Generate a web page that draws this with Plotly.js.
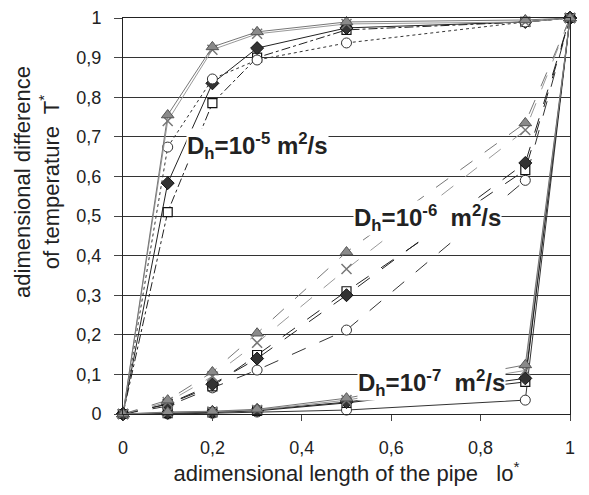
<!DOCTYPE html>
<html><head><meta charset="utf-8">
<script src="https://cdn.plot.ly/plotly-3.0.1.min.js"></script>
<style>html,body{margin:0;padding:0;background:#fff}</style>
</head><body>
<div id="chart" style="width:589px;height:495px"></div>
<script>
const lo = [0, 0.1, 0.2, 0.3, 0.5, 0.9, 1];

// Dh = 1e-5 m2/s
const d5Tri = [0, 0.755, 0.927, 0.965, 0.99, 0.995, 1];
const d5X   = [0, 0.74, 0.92, 0.96, 0.985, 0.99, 1];
const d5Dia = [0, 0.583, 0.835, 0.924, 0.975, 0.99, 1];
const d5Sq  = [0, 0.51, 0.785, 0.90, 0.97, 0.99, 1];
const d5Cir = [0, 0.674, 0.846, 0.894, 0.937, 0.99, 1];

// Dh = 1e-6 m2/s
const d6Tri = [0, 0.035, 0.106, 0.204, 0.409, 0.735, 1];
const d6X   = [0, 0.03, 0.095, 0.18, 0.366, 0.717, 1];
const d6Dia = [0, 0.025, 0.075, 0.14, 0.30, 0.634, 1];
const d6Sq  = [0, 0.025, 0.07, 0.149, 0.31, 0.616, 1];
const d6Cir = [0, 0.02, 0.066, 0.111, 0.212, 0.59, 1];

// Dh = 1e-7 m2/s
const d7Tri = [0, 0.005, 0.007, 0.012, 0.04, 0.124, 1];
const d7X   = [0, 0.004, 0.006, 0.01, 0.035, 0.11, 1];
const d7Dia = [0, 0.003, 0.005, 0.01, 0.03, 0.09, 1];
const d7Sq  = [0, 0.002, 0.004, 0.008, 0.028, 0.081, 1];
const d7Cir = [0, 0, 0.002, 0.005, 0.01, 0.035, 1];

const yTicks = [0, 0.1, 0.2, 0.3, 0.4, 0.5, 0.6, 0.7, 0.8, 0.9, 1];
const yTickText = ['0', '0,1', '0,2', '0,3', '0,4', '0,5', '0,6', '0,7', '0,8', '0,9', '1'];
const xTicks = [0, 0.2, 0.4, 0.6, 0.8, 1];
const xTickText = ['0', '0,2', '0,4', '0,6', '0,8', '1'];
const labels = ['D<sub>h</sub>=10<sup>-5</sup> m<sup>2</sup>/s',
                'D<sub>h</sub>=10<sup>-6</sup>  m<sup>2</sup>/s',
                'D<sub>h</sub>=10<sup>-7</sup>  m<sup>2</sup>/s'];
const xTitle = 'adimensional length of the pipe   lo<sup>*</sup>';
const yTitle = 'adimensional difference<br>of temperature  T<sup>*</sup>';

const styles = {
  tri: {marker:{symbol:'triangle-up', size:11, color:'#8a8a8a', line:{color:'#555', width:1}}, lc:'#777'},
  x:   {marker:{symbol:'x-thin', size:10, color:'#777', line:{color:'#777', width:1.5}}, lc:'#999'},
  dia: {marker:{symbol:'diamond', size:10, color:'#333', line:{color:'#111', width:1}}, lc:'#222'},
  sq:  {marker:{symbol:'square', size:9, color:'#fff', line:{color:'#111', width:1.2}}, lc:'#222'},
  cir: {marker:{symbol:'circle', size:10, color:'#fff', line:{color:'#333', width:1}}, lc:'#333'}
};
function tr(y, key, dash){
  const s = styles[key];
  return {x: lo, y: y, type:'scatter', mode:'lines+markers', cliponaxis:false,
    line:{color:s.lc, width:1, dash:dash}, marker:s.marker, showlegend:false, hoverinfo:'skip'};
}
const data = [
  tr(d5Sq,'sq','dashdot'), tr(d5Dia,'dia','solid'), tr(d5Cir,'cir','dot'), tr(d5X,'x','solid'), tr(d5Tri,'tri','solid'),
  tr(d6Cir,'cir','longdash'), tr(d6Sq,'sq','longdash'), tr(d6Dia,'dia','longdash'), tr(d6X,'x','longdash'), tr(d6Tri,'tri','longdash'),
  tr(d7Cir,'cir','solid'), tr(d7Sq,'sq','solid'), tr(d7Dia,'dia','solid'), tr(d7X,'x','solid'), tr(d7Tri,'tri','solid')
];
const FONT = 'Liberation Sans, Arial, sans-serif';
const layout = {
  width:589, height:495,
  margin:{l:123, r:19, t:18, b:81},
  paper_bgcolor:'#fff', plot_bgcolor:'#fff',
  font:{family:FONT, color:'#222', size:17},
  xaxis:{range:[0,1], tickvals:xTicks, ticktext:xTickText, showgrid:false, zeroline:false,
    showline:true, linecolor:'#222', linewidth:1, mirror:true,
    ticks:'outside', ticklen:6, tickcolor:'#444', ticklabelstandoff:11,
    tickfont:{family:FONT, size:18, color:'#222'}, automargin:false,
    title:{text:xTitle, font:{family:FONT, size:22, color:'#222'}, standoff:7}},
  yaxis:{range:[0,1], tickvals:yTicks, ticktext:yTickText, showgrid:true, gridcolor:'#333', gridwidth:1, zeroline:false,
    showline:true, linecolor:'#222', linewidth:1, mirror:true,
    ticks:'outside', ticklen:8, tickcolor:'#444', ticklabelstandoff:9,
    tickfont:{family:FONT, size:18, color:'#222'}, automargin:false},
  annotations:[
    {x:-0.1924, y:0.586, xref:'paper', yref:'paper', text:yTitle, textangle:-90, showarrow:false,
     font:{family:FONT, size:22, color:'#222'}, xanchor:'center', yanchor:'middle'},
    {x:0.302, y:0.677, xref:'x', yref:'y', text:'<b>'+labels[0]+'</b>', showarrow:false, bgcolor:'#fff', font:{family:FONT, size:24, color:'#222'}, borderpad:0},
    {x:0.682, y:0.495, xref:'x', yref:'y', text:'<b>'+labels[1]+'</b>', showarrow:false, bgcolor:'#fff', font:{family:FONT, size:24, color:'#222'}, borderpad:0},
    {x:0.691, y:0.078, xref:'x', yref:'y', text:'<b>'+labels[2]+'</b>', showarrow:false, bgcolor:'#fff', font:{family:FONT, size:24, color:'#222'}, borderpad:0}
  ]
};
Plotly.newPlot('chart', data, layout, {displayModeBar:false, staticPlot:true});
</script>
</body></html>
